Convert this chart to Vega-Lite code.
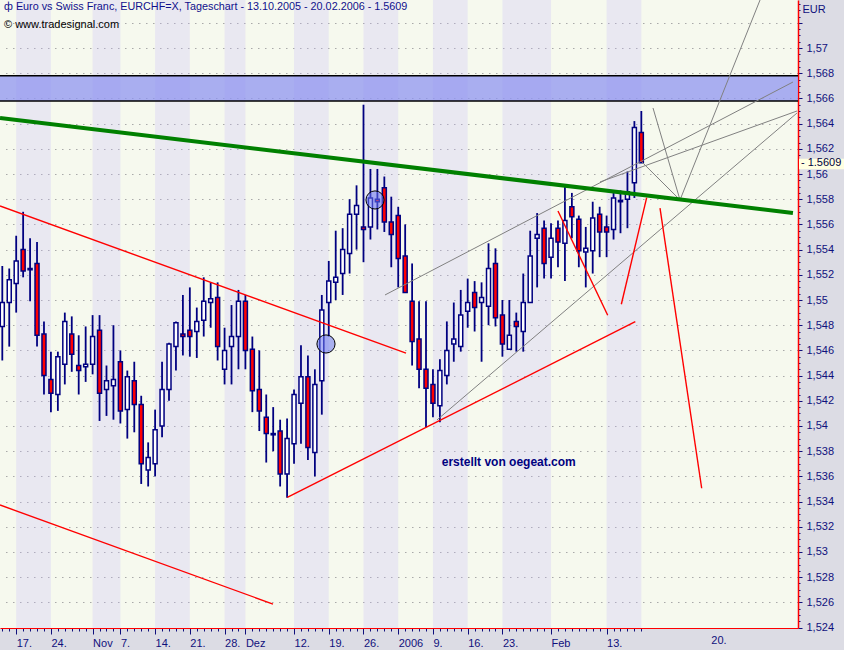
{
  "$schema": "https://vega.github.io/schema/vega-lite/v6.json",
  "width": 798,
  "height": 628,
  "autosize": {"type": "none"},
  "padding": {"left": 0, "top": 0, "right": 46, "bottom": 22},
  "background": "#dcdce4",
  "view": {"fill": "#f6f9ee", "stroke": null},
  "config": {"axis": {"labelOverlap": false}, "scale": {"continuousPadding": 0}},
  "title": {
    "text": "ф  Euro vs Swiss Franc, EURCHF=X, Tageschart - 13.10.2005 - 20.02.2006 - 1.5609",
    "subtitle": "©  www.tradesignal.com",
    "anchor": "start", "orient": "top", "frame": "group", "offset": -32, "dx": 4,
    "font": "Liberation Sans", "fontSize": 10.8, "fontWeight": "normal", "color": "#10108c",
    "subtitleFont": "Liberation Sans", "subtitleFontSize": 11, "subtitleColor": "#000000", "subtitlePadding": 7
  },
  "datasets": {
    "bands": [
      {"s": 2, "e": 7}, {"s": 13, "e": 17}, {"s": 22, "e": 27}, {"s": 32, "e": 35}, {"s": 42, "e": 47},
      {"s": 52, "e": 57}, {"s": 62, "e": 67}, {"s": 72, "e": 79}, {"s": 87, "e": 92}
    ],
    "zone": [{"lo": 1.5658, "hi": 1.5678}],
    "segs": [
      {"k": "green", "x1": -0.331, "p1": 1.56445, "x2": 113.83, "p2": 1.5569},
      {"k": "red", "x1": -0.331, "p1": 1.55746, "x2": 58.12, "p2": 1.54579},
      {"k": "red", "x1": -0.331, "p1": 1.53373, "x2": 38.97, "p2": 1.52587},
      {"k": "red", "x1": 41.03, "p1": 1.53433, "x2": 91.13, "p2": 1.54828},
      {"k": "red", "x1": 80.0, "p1": 1.55706, "x2": 87.16, "p2": 1.54879},
      {"k": "red", "x1": 89.12, "p1": 1.54966, "x2": 92.77, "p2": 1.55812},
      {"k": "red", "x1": 94.69, "p1": 1.5573, "x2": 100.69, "p2": 1.53506},
      {"k": "gray", "x1": 55.1, "p1": 1.5504, "x2": 113.83, "p2": 1.5673},
      {"k": "gray", "x1": 86.05, "p1": 1.55937, "x2": 114.41, "p2": 1.565},
      {"k": "gray", "x1": 62.58, "p1": 1.54048, "x2": 114.41, "p2": 1.56484},
      {"k": "gray", "x1": 92.09, "p1": 1.56095, "x2": 97.57, "p2": 1.55794},
      {"k": "gray", "x1": 93.68, "p1": 1.56524, "x2": 97.57, "p2": 1.55794},
      {"k": "gray", "x1": 97.57, "p1": 1.55794, "x2": 109.09, "p2": 1.57381}
    ],
    "marks": [
      {"i": 46.6, "p": 1.54651},
      {"i": 53.66, "p": 1.55794}
    ],
    "notes": [{"t": "erstellt von oegeat.com", "i": 63.26, "p": 1.53716}],
    "ohlc": [
      {"i": 0, "o": 1.5479, "h": 1.5527, "l": 1.5452, "c": 1.5498},
      {"i": 1, "o": 1.5498, "h": 1.5525, "l": 1.5463, "c": 1.5516},
      {"i": 2, "o": 1.5513, "h": 1.5551, "l": 1.549, "c": 1.5531},
      {"i": 3, "o": 1.554, "h": 1.557, "l": 1.5518, "c": 1.5523},
      {"i": 4, "o": 1.5525, "h": 1.5549, "l": 1.5499, "c": 1.5524},
      {"i": 5, "o": 1.5529, "h": 1.5546, "l": 1.5463, "c": 1.5472},
      {"i": 6, "o": 1.5473, "h": 1.5483, "l": 1.5425, "c": 1.544},
      {"i": 7, "o": 1.5437, "h": 1.5459, "l": 1.5411, "c": 1.5426},
      {"i": 8, "o": 1.5425, "h": 1.5459, "l": 1.5412, "c": 1.5455},
      {"i": 9, "o": 1.5449, "h": 1.549, "l": 1.5433, "c": 1.5483},
      {"i": 10, "o": 1.5473, "h": 1.5487, "l": 1.5443, "c": 1.5457},
      {"i": 11, "o": 1.5448, "h": 1.5472, "l": 1.5425, "c": 1.5444},
      {"i": 12, "o": 1.5447, "h": 1.5479, "l": 1.5435, "c": 1.5449},
      {"i": 13, "o": 1.5449, "h": 1.5488, "l": 1.5441, "c": 1.5471},
      {"i": 14, "o": 1.5476, "h": 1.5488, "l": 1.5404, "c": 1.5426},
      {"i": 15, "o": 1.5429, "h": 1.5448, "l": 1.5408, "c": 1.5436},
      {"i": 16, "o": 1.5432, "h": 1.548, "l": 1.5405, "c": 1.5437},
      {"i": 17, "o": 1.5451, "h": 1.546, "l": 1.5402, "c": 1.5412},
      {"i": 18, "o": 1.5413, "h": 1.5444, "l": 1.539, "c": 1.5439},
      {"i": 19, "o": 1.5436, "h": 1.5451, "l": 1.5395, "c": 1.5417},
      {"i": 20, "o": 1.5417, "h": 1.5424, "l": 1.5354, "c": 1.537},
      {"i": 21, "o": 1.5365, "h": 1.5387, "l": 1.5352, "c": 1.5375},
      {"i": 22, "o": 1.537, "h": 1.5413, "l": 1.536, "c": 1.5397},
      {"i": 23, "o": 1.54, "h": 1.5451, "l": 1.5391, "c": 1.5429},
      {"i": 24, "o": 1.5429, "h": 1.5466, "l": 1.542, "c": 1.5465},
      {"i": 25, "o": 1.5463, "h": 1.5483, "l": 1.5444, "c": 1.5482},
      {"i": 26, "o": 1.5473, "h": 1.5504, "l": 1.5456, "c": 1.5471},
      {"i": 27, "o": 1.5476, "h": 1.551, "l": 1.5455, "c": 1.5471},
      {"i": 28, "o": 1.5475, "h": 1.5494, "l": 1.5454, "c": 1.5483},
      {"i": 29, "o": 1.5484, "h": 1.5518, "l": 1.5471, "c": 1.5499},
      {"i": 30, "o": 1.5498, "h": 1.5514, "l": 1.5478, "c": 1.5501},
      {"i": 31, "o": 1.5502, "h": 1.5514, "l": 1.5452, "c": 1.5463},
      {"i": 32, "o": 1.5445, "h": 1.5478, "l": 1.5433, "c": 1.546},
      {"i": 33, "o": 1.5463, "h": 1.5496, "l": 1.5433, "c": 1.5471},
      {"i": 34, "o": 1.5471, "h": 1.5508, "l": 1.5445, "c": 1.5499},
      {"i": 35, "o": 1.5499, "h": 1.5504, "l": 1.5445, "c": 1.546},
      {"i": 36, "o": 1.5461, "h": 1.5471, "l": 1.5411, "c": 1.5428},
      {"i": 37, "o": 1.5429, "h": 1.546, "l": 1.5396, "c": 1.5412},
      {"i": 38, "o": 1.5407, "h": 1.5425, "l": 1.5371, "c": 1.5394},
      {"i": 39, "o": 1.5394, "h": 1.5415, "l": 1.538, "c": 1.5393},
      {"i": 40, "o": 1.5396, "h": 1.5405, "l": 1.5352, "c": 1.5362},
      {"i": 41, "o": 1.5362, "h": 1.5406, "l": 1.5343, "c": 1.539},
      {"i": 42, "o": 1.5386, "h": 1.5429, "l": 1.537, "c": 1.5425},
      {"i": 43, "o": 1.5418, "h": 1.5464, "l": 1.5386, "c": 1.5439},
      {"i": 44, "o": 1.5439, "h": 1.5456, "l": 1.5373, "c": 1.5383},
      {"i": 45, "o": 1.5379, "h": 1.5445, "l": 1.536, "c": 1.5433},
      {"i": 46, "o": 1.5436, "h": 1.5504, "l": 1.5409, "c": 1.5492},
      {"i": 47, "o": 1.5498, "h": 1.5531, "l": 1.5471, "c": 1.5515},
      {"i": 48, "o": 1.5514, "h": 1.5555, "l": 1.55, "c": 1.5518},
      {"i": 49, "o": 1.5521, "h": 1.5557, "l": 1.5504, "c": 1.554},
      {"i": 50, "o": 1.5537, "h": 1.558, "l": 1.5521, "c": 1.5568},
      {"i": 51, "o": 1.5568, "h": 1.5591, "l": 1.554, "c": 1.5575},
      {"i": 52, "o": 1.5558, "h": 1.5655, "l": 1.553, "c": 1.5556},
      {"i": 53, "o": 1.5558, "h": 1.5604, "l": 1.5548, "c": 1.5581},
      {"i": 54, "o": 1.558, "h": 1.5604, "l": 1.5556, "c": 1.5578},
      {"i": 55, "o": 1.5589, "h": 1.5598, "l": 1.5554, "c": 1.5562},
      {"i": 56, "o": 1.5562, "h": 1.5582, "l": 1.5526, "c": 1.5552},
      {"i": 57, "o": 1.5567, "h": 1.5574, "l": 1.551, "c": 1.5533},
      {"i": 58, "o": 1.5535, "h": 1.556, "l": 1.5506, "c": 1.5506},
      {"i": 59, "o": 1.5499, "h": 1.5529, "l": 1.5448, "c": 1.5467},
      {"i": 60, "o": 1.5469, "h": 1.5499, "l": 1.543, "c": 1.5445},
      {"i": 61, "o": 1.5445, "h": 1.5499, "l": 1.5399, "c": 1.543},
      {"i": 62, "o": 1.5433, "h": 1.5445, "l": 1.5407, "c": 1.5418},
      {"i": 63, "o": 1.5416, "h": 1.5453, "l": 1.5403, "c": 1.5444},
      {"i": 64, "o": 1.544, "h": 1.5483, "l": 1.5433, "c": 1.546},
      {"i": 65, "o": 1.5465, "h": 1.5498, "l": 1.5451, "c": 1.5469},
      {"i": 66, "o": 1.5463, "h": 1.5508, "l": 1.5459, "c": 1.5488},
      {"i": 67, "o": 1.5491, "h": 1.5517, "l": 1.5478, "c": 1.5498},
      {"i": 68, "o": 1.5506, "h": 1.5515, "l": 1.5475, "c": 1.5494},
      {"i": 69, "o": 1.5498, "h": 1.5514, "l": 1.5451, "c": 1.5502},
      {"i": 70, "o": 1.5495, "h": 1.5545, "l": 1.548, "c": 1.5525},
      {"i": 71, "o": 1.5529, "h": 1.5541, "l": 1.5479, "c": 1.5486},
      {"i": 72, "o": 1.5488, "h": 1.55, "l": 1.5455, "c": 1.5465},
      {"i": 73, "o": 1.5461, "h": 1.55, "l": 1.5461, "c": 1.5472},
      {"i": 74, "o": 1.5483, "h": 1.549, "l": 1.5459, "c": 1.5479},
      {"i": 75, "o": 1.5475, "h": 1.5521, "l": 1.5459, "c": 1.5498},
      {"i": 76, "o": 1.5498, "h": 1.5555, "l": 1.5498, "c": 1.5535},
      {"i": 77, "o": 1.5549, "h": 1.5569, "l": 1.551, "c": 1.5552},
      {"i": 78, "o": 1.5557, "h": 1.5563, "l": 1.5517, "c": 1.5529},
      {"i": 79, "o": 1.5534, "h": 1.5561, "l": 1.5517, "c": 1.5549},
      {"i": 80, "o": 1.5557, "h": 1.5563, "l": 1.5526, "c": 1.5546},
      {"i": 81, "o": 1.5545, "h": 1.559, "l": 1.5515, "c": 1.5563},
      {"i": 82, "o": 1.5574, "h": 1.5585, "l": 1.5549, "c": 1.5566},
      {"i": 83, "o": 1.5564, "h": 1.5567, "l": 1.5526, "c": 1.5539},
      {"i": 84, "o": 1.5538, "h": 1.5558, "l": 1.551, "c": 1.5541},
      {"i": 85, "o": 1.5539, "h": 1.5578, "l": 1.5521, "c": 1.5565},
      {"i": 86, "o": 1.5568, "h": 1.5574, "l": 1.5534, "c": 1.5554},
      {"i": 87, "o": 1.5558, "h": 1.5567, "l": 1.5534, "c": 1.5554},
      {"i": 88, "o": 1.5556, "h": 1.5585, "l": 1.5548, "c": 1.5581},
      {"i": 89, "o": 1.5578, "h": 1.5587, "l": 1.5553, "c": 1.5579},
      {"i": 90, "o": 1.558, "h": 1.5602, "l": 1.5557, "c": 1.5586},
      {"i": 91, "o": 1.5593, "h": 1.5642, "l": 1.5581, "c": 1.5637},
      {"i": 92, "o": 1.5633, "h": 1.565, "l": 1.5609, "c": 1.5609}
    ]
  },
  "layer": [
    {
      "data": {"name": "bands"},
      "mark": {"type": "rect", "fill": "#c2b9fa", "opacity": 0.25},
      "encoding": {
        "x": {"field": "s", "type": "quantitative", "title": null, "scale": {"domain": [-0.331, 114.555], "nice": false, "zero": false, "padding": 0}},
        "x2": {"field": "e"}
      }
    },
    {
      "data": {"name": "zone"},
      "mark": {"type": "rect", "fill": "#8f94f0", "opacity": 0.75},
      "encoding": {
        "y": {"field": "lo", "type": "quantitative", "title": "EUR"},
        "y2": {"field": "hi"}
      }
    },
    {
      "data": {"name": "zone"},
      "mark": {"type": "rule", "color": "#000000", "strokeWidth": 1.5},
      "encoding": {"y": {"field": "lo", "type": "quantitative", "title": "EUR"}}
    },
    {
      "data": {"name": "zone"},
      "mark": {"type": "rule", "color": "#000000", "strokeWidth": 1.5},
      "encoding": {"y": {"field": "hi", "type": "quantitative", "title": "EUR"}}
    },
    {
      "data": {"name": "ohlc"},
      "mark": {"type": "rule", "color": "#000080", "strokeWidth": 1.8},
      "encoding": {
        "x": {
          "field": "i", "type": "quantitative", "title": null,
          "axis": {
            "orient": "bottom",
            "tickCount": 400,
            "values": [0,1,2,3,4,5,6,7,8,9,10,11,12,13,14,15,16,17,18,19,20,21,22,23,24,25,26,27,28,29,30,31,32,33,34,35,36,37,38,39,40,41,42,43,44,45,46,47,48,49,50,51,52,53,54,55,56,57,58,59,60,61,62,63,64,65,66,67,68,69,70,71,72,73,74,75,76,77,78,79,80,81,82,83,84,85,86,87,88,89,90,91,92,102],
            "labelExpr": "indexof([2,7,13,17,22,27,32,35,42,47,52,57,62,67,72,79,87,102], datum.value) >= 0 ? ['17.','24.','Nov','7.','14.','21.','28.','Dez','12.','19.','26.','2006','9.','16.','23.','Feb','13.','20.'][indexof([2,7,13,17,22,27,32,35,42,47,52,57,62,67,72,79,87,102], datum.value)] : ''",
            "labelOverlap": false, "labelFlush": false, "labelBound": false,
            "labelAlign": "left", "labelPadding": 3,
            "labelFont": "Liberation Sans", "labelFontSize": 11, "labelColor": "#10107c",
            "tickColor": "#10107c", "tickWidth": 1,
            "tickSize": {"condition": {"test": "indexof([2,7,13,17,22,27,32,35,42,47,52,57,62,67,72,79,87], datum.value) >= 0", "value": 6}, "value": 3},
            "tickOpacity": {"condition": {"test": "datum.value > 95", "value": 0}, "value": 1},
            "domainColor": "#ff0000", "domainWidth": 1.2, "grid": false
          }
        },
        "y": {
          "field": "l", "type": "quantitative", "title": "EUR",
          "scale": {"domain": [1.523968, 1.57381], "nice": false, "zero": false},
          "axis": {
            "orient": "right",
            "tickCount": 400,
            "values": [1.524,1.5245,1.525,1.5255,1.526,1.5265,1.527,1.5275,1.528,1.5285,1.529,1.5295,1.53,1.5305,1.531,1.5315,1.532,1.5325,1.533,1.5335,1.534,1.5345,1.535,1.5355,1.536,1.5365,1.537,1.5375,1.538,1.5385,1.539,1.5395,1.54,1.5405,1.541,1.5415,1.542,1.5425,1.543,1.5435,1.544,1.5445,1.545,1.5455,1.546,1.5465,1.547,1.5475,1.548,1.5485,1.549,1.5495,1.55,1.5505,1.551,1.5515,1.552,1.5525,1.553,1.5535,1.554,1.5545,1.555,1.5555,1.556,1.5565,1.557,1.5575,1.558,1.5585,1.559,1.5595,1.56,1.5605,1.561,1.5615,1.562,1.5625,1.563,1.5635,1.564,1.5645,1.565,1.5655,1.566,1.5665,1.567,1.5675,1.568,1.5685,1.569,1.5695,1.57,1.5705,1.571,1.5715,1.572,1.5725,1.573,1.5735],
            "labelExpr": "abs(datum.value*500 - round(datum.value*500)) < 0.01 && datum.value < 1.5705 ? replace(format(datum.value, '.3~f'), '.', ',') : ''",
            "labelOverlap": false, "labelFlush": false, "labelBound": false,
            "labelPadding": 4, "labelBaseline": "middle",
            "labelFont": "Liberation Sans", "labelFontSize": 11, "labelColor": "#10107c",
            "tickColor": "#10107c", "tickWidth": 1,
            "tickSize": {"condition": {"test": "abs(datum.value*500 - round(datum.value*500)) < 0.01", "value": 4}, "value": 2},
            "domainColor": "#ff0000", "domainWidth": 1.5,
            "grid": true, "gridColor": "#a9a9a9", "gridDash": [1.5, 5.5], "gridWidth": 1,
            "gridOpacity": {"condition": {"test": "abs(datum.value*500 - round(datum.value*500)) < 0.01", "value": 1}, "value": 0},
            "title": "EUR", "titleAngle": 0, "titleAlign": "left", "titleBaseline": "top",
            "titleX": 4, "titleY": 3, "titleFont": "Liberation Sans", "titleFontSize": 11,
            "titleFontWeight": "normal", "titleColor": "#10107c"
          }
        },
        "y2": {"field": "h"}
      }
    },
    {
      "data": {"name": "ohlc"},
      "mark": {"type": "bar", "size": 4, "stroke": "#000080", "strokeWidth": 1.5},
      "encoding": {
        "x": {"field": "i", "type": "quantitative", "title": null},
        "y": {"field": "o", "type": "quantitative", "title": "EUR"},
        "y2": {"field": "c"},
        "fill": {"condition": {"test": "datum.c < datum.o", "value": "#ff0000"}, "value": "#ffffff"}
      }
    },
    {
      "data": {"name": "segs"},
      "transform": [{"filter": "datum.k == 'gray'"}],
      "mark": {"type": "rule", "color": "#808080", "strokeWidth": 1},
      "encoding": {
        "x": {"field": "x1", "type": "quantitative", "title": null},
        "x2": {"field": "x2"},
        "y": {"field": "p1", "type": "quantitative", "title": "EUR"},
        "y2": {"field": "p2"}
      }
    },
    {
      "data": {"name": "segs"},
      "transform": [{"filter": "datum.k == 'red'"}],
      "mark": {"type": "rule", "color": "#ff0000", "strokeWidth": 1.4},
      "encoding": {
        "x": {"field": "x1", "type": "quantitative", "title": null},
        "x2": {"field": "x2"},
        "y": {"field": "p1", "type": "quantitative", "title": "EUR"},
        "y2": {"field": "p2"}
      }
    },
    {
      "data": {"name": "segs"},
      "transform": [{"filter": "datum.k == 'green'"}],
      "mark": {"type": "rule", "color": "#008000", "strokeWidth": 4},
      "encoding": {
        "x": {"field": "x1", "type": "quantitative", "title": null},
        "x2": {"field": "x2"},
        "y": {"field": "p1", "type": "quantitative", "title": "EUR"},
        "y2": {"field": "p2"}
      }
    },
    {
      "data": {"name": "marks"},
      "mark": {"type": "point", "shape": "circle", "filled": true, "size": 330, "opacity": 1, "fill": "#6a74f0", "fillOpacity": 0.55, "stroke": "#000000", "strokeWidth": 1, "strokeOpacity": 1},
      "encoding": {
        "x": {"field": "i", "type": "quantitative", "title": null},
        "y": {"field": "p", "type": "quantitative", "title": "EUR"}
      }
    },
    {
      "data": {"name": "notes"},
      "mark": {"type": "text", "font": "Liberation Sans", "fontWeight": "bold", "fontSize": 12, "color": "#000080", "align": "left", "baseline": "middle"},
      "encoding": {
        "x": {"field": "i", "type": "quantitative", "title": null},
        "y": {"field": "p", "type": "quantitative", "title": "EUR"},
        "text": {"field": "t"}
      }
    },
    {
      "data": {"values": [{}]},
      "mark": {"type": "rect", "fill": "#ffffe1"},
      "encoding": {
        "x": {"datum": 114.7, "type": "quantitative", "title": null},
        "x2": {"datum": 121.2},
        "y": {"datum": 1.56121, "type": "quantitative", "title": "EUR"},
        "y2": {"datum": 1.56037}
      }
    },
    {
      "data": {"values": [{}]},
      "mark": {"type": "text", "font": "Liberation Sans", "fontSize": 11, "color": "#000040", "align": "left", "baseline": "middle"},
      "encoding": {
        "x": {"datum": 114.98, "type": "quantitative", "title": null},
        "y": {"datum": 1.5609, "type": "quantitative", "title": "EUR"},
        "text": {"value": "- 1.5609"}
      }
    }
  ]
}
